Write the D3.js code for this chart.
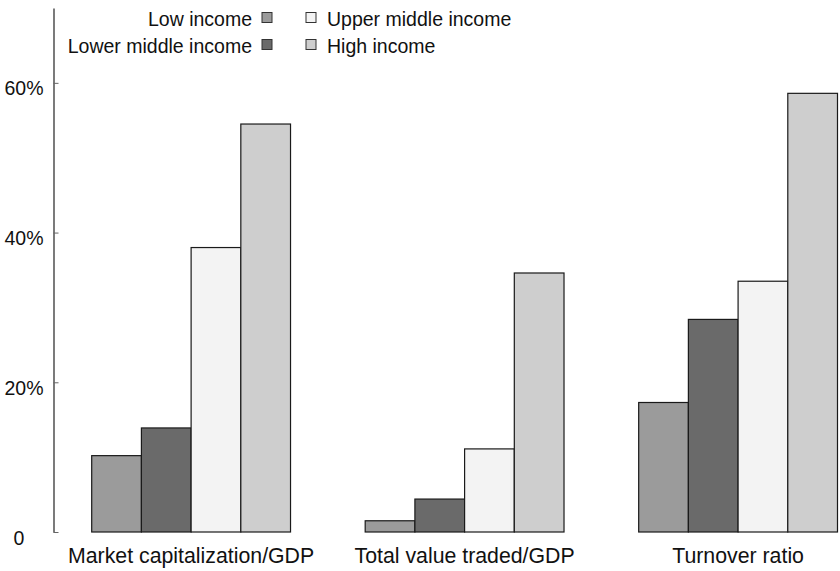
<!DOCTYPE html>
<html>
<head>
<meta charset="utf-8">
<script src="https://cdn.jsdelivr.net/npm/d3@7"></script>
<style>
  body { margin: 0; background: #fff; }
  svg { display: block; font-family: "Liberation Sans", Arial, sans-serif; }
</style>
</head>
<body>
<svg id="chart" width="840" height="571"></svg>
<script>
// data (percent)
const categories = ["Market capitalization/GDP", "Total value traded/GDP", "Turnover ratio"];
const incomeGroups = ["Low income", "Lower middle income", "Upper middle income", "High income"];
const lowIncome = [10.2, 1.5, 17.3];
const lowerMiddleIncome = [13.9, 4.4, 28.4];
const upperMiddleIncome = [38.0, 11.1, 33.5];
const highIncome = [54.5, 34.6, 58.6];
const yTicks = [0, 20, 40, 60];

const seriesValues = [lowIncome, lowerMiddleIncome, upperMiddleIncome, highIncome];
const fills = ["#9b9b9b", "#6a6a6a", "#f3f3f3", "#cecece"];

const svg = d3.select("#chart");

const x0 = d3.scaleBand()
  .domain(categories)
  .range([91.7, 837.5])
  .paddingInner(0.273)
  .paddingOuter(0);

const x1 = d3.scaleBand()
  .domain(incomeGroups)
  .range([0, x0.bandwidth()]);

const y = d3.scaleLinear()
  .domain([0, 70])
  .range([532, 8]);

const color = d3.scaleOrdinal().domain(incomeGroups).range(fills);

// y axis
const yAxis = svg.append("g")
  .attr("transform", "translate(53.5,0)")
  .call(d3.axisLeft(y)
    .tickValues(yTicks)
    .tickSizeInner(-5)
    .tickSizeOuter(0)
    .tickPadding(10)
    .tickFormat(d => d === 0 ? "0" : d + "%"));

yAxis.select(".domain").attr("stroke", "#222").attr("stroke-width", 1.2);
yAxis.selectAll(".tick line").attr("stroke", "#666");
yAxis.selectAll(".tick text")
  .attr("font-size", 19.5)
  .attr("fill", "#111")
  .attr("dy", "0.62em")
  .attr("text-anchor", d => d === 0 ? "middle" : "end")
  .attr("x", d => d === 0 ? -34.5 : -10);

// bars
const rows = categories.map((c, i) => ({
  category: c,
  values: incomeGroups.map((g, j) => ({ group: g, value: seriesValues[j][i] }))
}));

const groupsG = svg.append("g")
  .selectAll("g")
  .data(rows)
  .join("g")
  .attr("transform", d => `translate(${x0(d.category)},0)`);

groupsG.selectAll("rect")
  .data(d => d.values)
  .join("rect")
  .attr("x", d => x1(d.group))
  .attr("y", d => y(d.value))
  .attr("width", x1.bandwidth())
  .attr("height", d => y(0) - y(d.value))
  .attr("fill", d => color(d.group))
  .attr("stroke", "#1a1a1a")
  .attr("stroke-width", 1.2);

// category labels
svg.append("g")
  .selectAll("text")
  .data(categories)
  .join("text")
  .attr("x", d => x0(d) + x0.bandwidth() / 2)
  .attr("y", 563)
  .attr("text-anchor", "middle")
  .attr("font-size", 21.3)
  .attr("fill", "#111")
  .text(d => d);

// legend: two columns, first one right-aligned with swatch on the right
const legendItems = [
  { group: incomeGroups[0], col: 0, row: 0 },
  { group: incomeGroups[1], col: 0, row: 1 },
  { group: incomeGroups[2], col: 1, row: 0 },
  { group: incomeGroups[3], col: 1, row: 1 }
];

const legend = svg.append("g");
const lg = legend.selectAll("g")
  .data(legendItems)
  .join("g")
  .attr("transform", d => `translate(0,${d.row === 0 ? 0 : 27})`);

lg.append("rect")
  .attr("x", d => d.col === 0 ? 262 : 306)
  .attr("y", 12.5)
  .attr("width", 10)
  .attr("height", 10)
  .attr("fill", d => color(d.group))
  .attr("stroke", "#333")
  .attr("stroke-width", 1);

lg.append("text")
  .attr("x", d => d.col === 0 ? 252 : 327)
  .attr("y", 26)
  .attr("text-anchor", d => d.col === 0 ? "end" : "start")
  .attr("font-size", 19.5)
  .attr("fill", "#111")
  .text(d => d.group);
</script>
</body>
</html>
